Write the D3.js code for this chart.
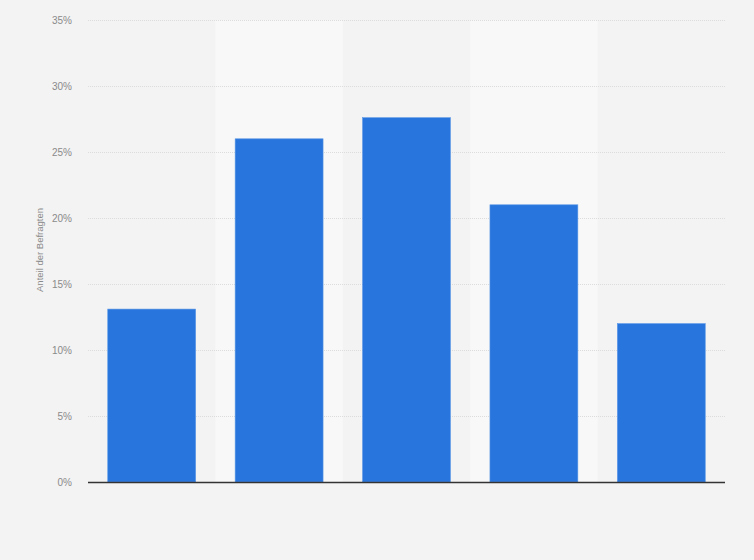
<!DOCTYPE html>
<html>
<head>
<meta charset="utf-8">
<script src="https://cdn.jsdelivr.net/npm/d3@7"></script>
<style>
  body { margin: 0; background: #f3f3f3; }
  svg { display: block; font-family: "Liberation Sans", Arial, sans-serif; }
</style>
</head>
<body>
<div id="chart"></div>
<script>
// Data
var categories = ["A", "B", "C", "D", "E"];
var values = [13.1, 26.0, 27.6, 21.0, 12.0];
var yTicks = [0, 5, 10, 15, 20, 25, 30, 35];

var svgWidth = 754;
var svgHeight = 560;

var margin = { top: 20, right: 29, bottom: 78, left: 88 };
var width = svgWidth - margin.left - margin.right;
var height = svgHeight - margin.top - margin.bottom;

var svg = d3.select("#chart")
  .append("svg")
  .attr("width", svgWidth)
  .attr("height", svgHeight);

svg.append("rect")
  .attr("width", svgWidth)
  .attr("height", svgHeight)
  .attr("fill", "#f3f3f3");

var chartGroup = svg.append("g")
  .attr("transform", `translate(${margin.left}, ${margin.top})`);

// Scales
var xScale = d3.scaleBand()
  .domain(categories)
  .range([0, width])
  .paddingInner(0.31)
  .paddingOuter(0.155);

var yScale = d3.scaleLinear()
  .domain([0, 35])
  .range([height, 0]);

// Alternating column backgrounds
var step = xScale.step();
chartGroup.append("g").selectAll("rect")
  .data(categories.filter((d, i) => i % 2 === 1))
  .enter()
  .append("rect")
  .attr("x", d => xScale(d) - xScale.paddingOuter() * step)
  .attr("y", 0)
  .attr("width", step)
  .attr("height", height)
  .attr("fill", "#f8f8f8");

// Gridlines
chartGroup.append("g").selectAll("line")
  .data(yTicks.filter(d => d > 0))
  .enter()
  .append("line")
  .attr("x1", 0)
  .attr("x2", width)
  .attr("y1", d => yScale(d) + 0.5)
  .attr("y2", d => yScale(d) + 0.5)
  .attr("stroke", "#dcdcdc")
  .attr("stroke-width", 1)
  .attr("stroke-dasharray", "1,1");

// Y axis labels
var leftAxis = d3.axisLeft(yScale)
  .tickValues(yTicks)
  .tickFormat(d => d + "%")
  .tickSize(0)
  .tickPadding(16);

var yAxisG = chartGroup.append("g").call(leftAxis);
yAxisG.select(".domain").remove();
yAxisG.selectAll("text")
  .attr("fill", "#8a8a8a")
  .attr("font-size", "10px")
  .attr("font-family", "Liberation Sans, Arial, sans-serif");

// Bars
chartGroup.append("g").selectAll("rect")
  .data(values)
  .enter()
  .append("rect")
  .attr("x", (d, i) => xScale(categories[i]))
  .attr("y", d => yScale(d))
  .attr("width", xScale.bandwidth())
  .attr("height", d => height - yScale(d))
  .attr("fill", "#2876dd")
  .attr("stroke", "#5a97e6")
  .attr("stroke-width", 0.6);

// Baseline
chartGroup.append("line")
  .attr("x1", 0)
  .attr("x2", width)
  .attr("y1", height + 0.5)
  .attr("y2", height + 0.5)
  .attr("stroke", "#333")
  .attr("stroke-width", 1.3);

// Y axis title
chartGroup.append("text")
  .attr("transform", "rotate(-90)")
  .attr("x", -(height / 2) + 1)
  .attr("y", -margin.left + 43)
  .attr("text-anchor", "middle")
  .attr("fill", "#8a8a8a")
  .attr("font-size", "9.5px")
  .text("Anteil der Befragten");
</script>
</body>
</html>
